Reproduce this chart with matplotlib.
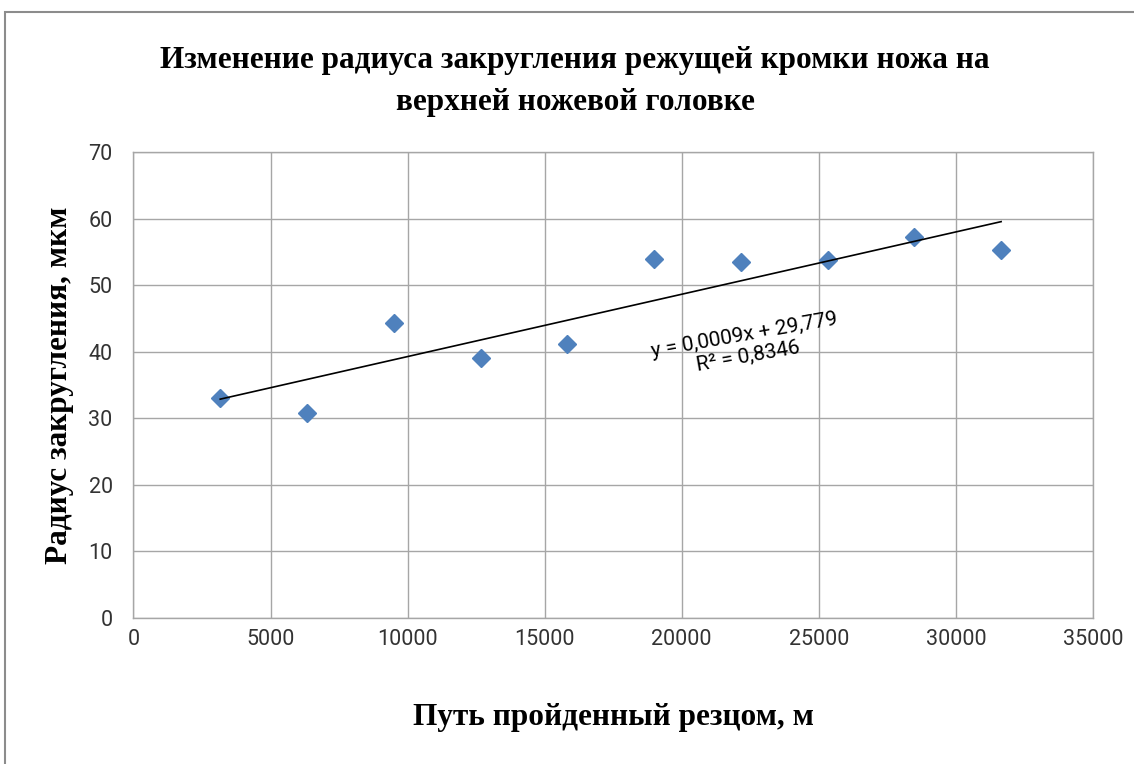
import matplotlib.pyplot as plt
from matplotlib.patches import Rectangle
import numpy as np

#-- data
path_m = [3165, 6330, 9495, 12660, 15825, 18990, 22155, 25320, 28485, 31650]
radius = [33.0, 30.8, 44.3, 39.1, 41.2, 53.9, 53.5, 53.8, 57.2, 55.3]

title  = 'Изменение радиуса закругления режущей кромки ножа на\nверхней ножевой головке'
xlabel = 'Путь пройденный резцом, м'
ylabel = 'Радиус закругления, мкм'
eq_txt = 'y = 0,0009x + 29,779\nR² = 0,8346'

serif = ['Liberation Serif', 'DejaVu Serif']
sans  = ['Roboto', 'DejaVu Sans']

#-- figure and axes
fig = plt.figure(figsize=(11.34, 7.64), dpi=100)
ax  = fig.add_axes([0.1177, 0.1911, 0.8461, 0.6099])

#-- outer chart frame
fig.patches.append(Rectangle((5/1134, -0.01), 1.1, (764-12)/764 + 0.01,
                             transform=fig.transFigure, fill=False,
                             edgecolor='#8c8c8c', linewidth=1.5))

#-- scatter points
ax.plot(path_m, radius, linestyle='none', marker='D', markersize=9.5,
        color='#4f81bd', zorder=3)

#-- linear trendline
k, b = np.polyfit(path_m, radius, 1)
xt = np.array([path_m[0], path_m[-1]])
ax.plot(xt, k*xt + b, color='black', linewidth=1.2, zorder=4)

#-- trendline label
ax.text(22350, 40.9, eq_txt, rotation=10, ha='center', va='center',
        rotation_mode='anchor', fontsize=15, family=sans, linespacing=1.15)

#-- axes limits, ticks, grid
ax.set_xlim(0, 35000)
ax.set_ylim(0, 70)
ax.set_xticks(np.arange(0, 35001, 5000))
ax.set_yticks(np.arange(0, 71, 10))
ax.grid(True, color='#a6a6a6', linewidth=1)
ax.set_axisbelow(True)
for s in ax.spines.values():
    s.set_color('#a6a6a6')
    s.set_linewidth(1)
ax.tick_params(length=0, labelsize=15.5, colors='#333333')
ax.tick_params(axis='y', pad=15)
ax.tick_params(axis='x', pad=8)
for lab in ax.get_xticklabels() + ax.get_yticklabels():
    lab.set_family(sans)

#-- titles
fig.text(0.507, 0.893, title, ha='center', va='center', fontsize=22.5,
         fontweight='bold', family=serif, linespacing=1.6)
ax.set_xlabel(xlabel, fontsize=22.5, fontweight='bold', family=serif, labelpad=38)
ax.set_ylabel(ylabel, fontsize=22.5, fontweight='bold', family=serif, labelpad=10)

plt.savefig('out.png', dpi=100)
